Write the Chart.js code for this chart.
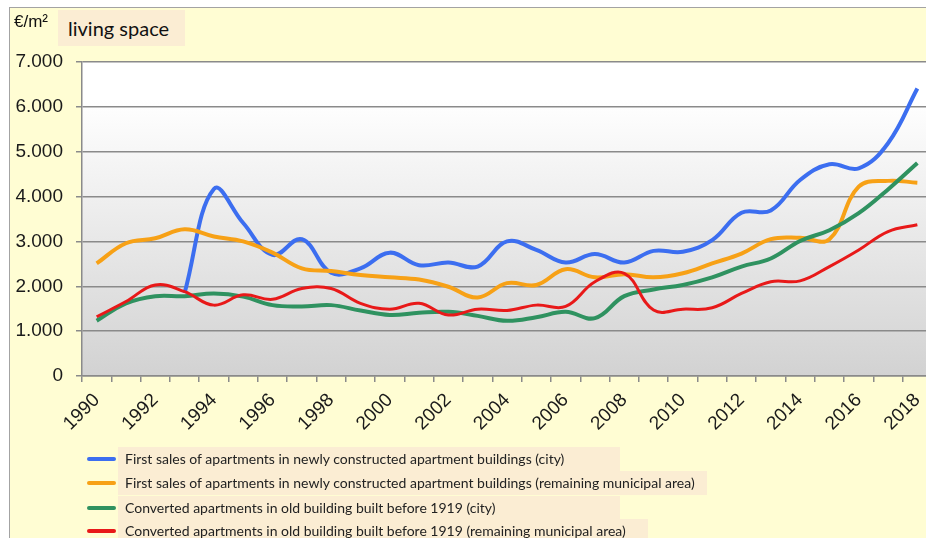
<!DOCTYPE html>
<html>
<head>
<meta charset="utf-8">
<script src="https://cdn.jsdelivr.net/npm/chart.js@4/dist/chart.umd.min.js"></script>
<style>
  html, body { margin: 0; padding: 0; background: #fff; overflow: hidden; }
  body { width: 926px; height: 538px; position: relative; }
  .frame { position: absolute; left: 9px; top: 7px; width: 940px; height: 560px;
           background: #fffdd3; border: 1px solid #a3a3a3; }
  .chartBox { position: absolute; left: 0; top: 0; width: 950px; height: 538px; }
  .unit { position: absolute; left: 14px; top: 12px; font: 17px "Liberation Sans", Arial, sans-serif; color: #111; }
  .title { position: absolute; left: 58px; top: 10px; width: 127px; height: 36px; background: #fbedd3;
           font: 20px Lato, sans-serif; color: #111; line-height: 36px; padding-left: 10px; box-sizing: border-box; }
  .legend { position: absolute; left: 0; top: 0; }
  .item { position: absolute; height: 24px; }
  .swatch { position: absolute; left: 87px; top: 10px; width: 29px; height: 4px; border-radius: 2px; }
  .lbl { position: absolute; left: 118px; top: 0; height: 24px; background: #fbedd3; box-sizing: border-box;
         padding-left: 7px; font: 14px Lato, sans-serif; line-height: 24px; color: #222; white-space: nowrap; }
</style>
</head>
<body>
<div class="frame"></div>
<div class="chartBox"><canvas id="chart"></canvas></div>
<div class="unit">€/m²</div>
<div class="title">living space</div>
<div class="legend" id="legend"></div>
<script>
const years = ['1990','1991','1992','1993','1994','1995','1996','1997','1998','1999','2000','2001','2002','2003','2004',
  '2005','2006','2007','2008','2009','2010','2011','2012','2013','2014','2015','2016','2017','2018'];

const newCity = [null, null, null, 1850, 4170, 3410, 2700, 3050, 2300, 2400, 2750, 2470, 2530, 2440, 3000,
  2810, 2530, 2720, 2530, 2790, 2770, 3030, 3640, 3690, 4370, 4720, 4630, 5190, 6410];
const newRemaining = [2510, 2960, 3070, 3270, 3110, 3000, 2750, 2400, 2340, 2250, 2200, 2150, 1990, 1750, 2070,
  2030, 2380, 2200, 2270, 2200, 2290, 2510, 2730, 3050, 3080, 3050, 4220, 4350, 4310];
const oldCity = [1230, 1620, 1780, 1780, 1840, 1770, 1580, 1550, 1580, 1460, 1360, 1410, 1430, 1340, 1230,
  1310, 1430, 1290, 1780, 1930, 2030, 2200, 2440, 2620, 3010, 3250, 3630, 4160, 4750];
const oldRemaining = [1320, 1660, 2030, 1880, 1580, 1810, 1710, 1950, 1950, 1620, 1490, 1620, 1360, 1490, 1460,
  1580, 1550, 2100, 2290, 1470, 1490, 1520, 1840, 2100, 2120, 2440, 2810, 3220, 3370];

const seriesNames = [
  'First sales of apartments in newly constructed apartment buildings (city)',
  'First sales of apartments in newly constructed apartment buildings (remaining municipal area)',
  'Converted apartments in old building built before 1919 (city)',
  'Converted apartments in old building built before 1919 (remaining municipal area)'
];
const seriesColors = ['#3c6ef0', '#f7a116', '#2f9260', '#e81919'];
const yTicks = [0, 1000, 2000, 3000, 4000, 5000, 6000, 7000];

const plotBg = {
  id: 'plotBg',
  beforeDraw(chart) {
    const { ctx, chartArea: a } = chart;
    const g = ctx.createLinearGradient(0, a.top, 0, a.bottom);
    g.addColorStop(0, '#ffffff');
    g.addColorStop(0.12, '#ffffff');
    g.addColorStop(1, '#d2d2d2');
    ctx.save();
    ctx.fillStyle = g;
    ctx.fillRect(a.left, a.top, a.right - a.left, a.bottom - a.top);
    ctx.restore();
  }
};

const allData = [newCity, newRemaining, oldCity, oldRemaining];
const widths = [4, 4, 4, 3];
const tickFont = "'Liberation Sans', Arial, sans-serif";

const chart = new Chart(document.getElementById('chart'), {
  type: 'line',
  data: {
    labels: years,
    datasets: allData.map((d, i) => ({
      label: seriesNames[i],
      data: d,
      borderColor: seriesColors[i],
      backgroundColor: seriesColors[i],
      borderWidth: widths[i],
      pointRadius: 0,
      tension: 0.4,
      order: 4 - i
    }))
  },
  options: {
    responsive: true,
    maintainAspectRatio: false,
    animation: false,
    layout: { padding: { left: 0, top: 62, right: 18, bottom: 102 } },
    plugins: { legend: { display: false }, tooltip: { enabled: false } },
    scales: {
      x: {
        offset: true,
        grid: { offset: true, drawOnChartArea: false, drawTicks: true, tickLength: 6, color: '#8a8a8a', lineWidth: 1.5 },
        border: { color: '#8a8a8a', width: 1.5 },
        ticks: {
          autoSkip: false, minRotation: 45, maxRotation: 45, padding: 7,
          color: '#1a1a1a', font: { family: tickFont, size: 19 },
          callback: (v, i) => (i % 2 === 0 ? years[i] : '')
        },
        afterFit: s => { s.height = 60; }
      },
      y: {
        min: 0, max: 7000,
        afterBuildTicks: s => { s.ticks = yTicks.map(v => ({ value: v })); },
        grid: { color: '#8a8a8a', lineWidth: 1.5, tickLength: 6 },
        border: { color: '#8a8a8a', width: 1.5 },
        ticks: {
          padding: 13, color: '#1a1a1a', font: { family: tickFont, size: 19 },
          callback: v => (v === 0 ? '0' : (v / 1000) + '.000')
        },
        afterFit: s => { s.width = 82; }
      }
    }
  },
  plugins: [plotBg]
});

// legend, one row per series like the original
const legend = document.getElementById('legend');
const rowTops = [447, 471, 496, 519];
const boxWidths = [502, 589, 502, 530];
chart.data.datasets.forEach((ds, i) => {
  const item = document.createElement('div');
  item.className = 'item';
  item.style.top = rowTops[i] + 'px';
  const sw = document.createElement('div');
  sw.className = 'swatch';
  sw.style.background = ds.borderColor;
  const lbl = document.createElement('div');
  lbl.className = 'lbl';
  lbl.style.width = boxWidths[i] + 'px';
  lbl.textContent = ds.label;
  item.appendChild(sw);
  item.appendChild(lbl);
  legend.appendChild(item);
});
</script>
</body>
</html>
